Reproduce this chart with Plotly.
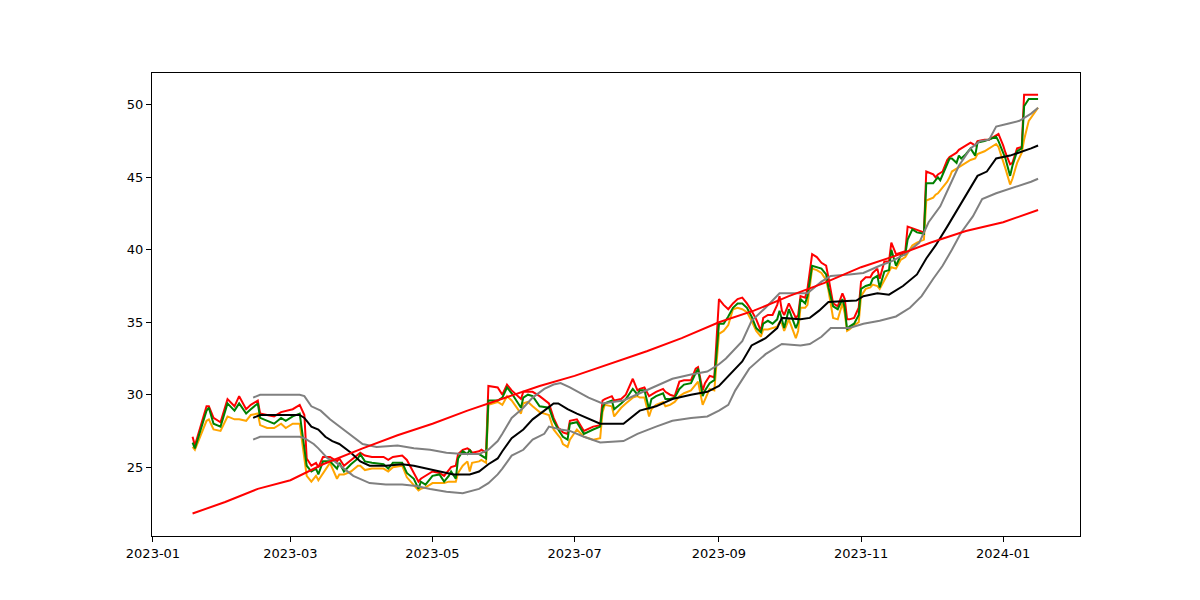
import plotly.graph_objects as go

# daily price samples (close / high / low)
dates = [
    "2023-01-18", "2023-01-19", "2023-01-24", "2023-01-25", "2023-01-27", "2023-01-30",
    "2023-02-02", "2023-02-05", "2023-02-07", "2023-02-10", "2023-02-12", "2023-02-15",
    "2023-02-16", "2023-02-19", "2023-02-22", "2023-02-25", "2023-02-27", "2023-03-02",
    "2023-03-05", "2023-03-07", "2023-03-08", "2023-03-10", "2023-03-12", "2023-03-13",
    "2023-03-15", "2023-03-18", "2023-03-21", "2023-03-22", "2023-03-24", "2023-03-27",
    "2023-03-30", "2023-03-31", "2023-04-02", "2023-04-05", "2023-04-10", "2023-04-12",
    "2023-04-14", "2023-04-18", "2023-04-20", "2023-04-23", "2023-04-25", "2023-04-26",
    "2023-04-28", "2023-04-30", "2023-05-01", "2023-05-04", "2023-05-06", "2023-05-08",
    "2023-05-09", "2023-05-11", "2023-05-12", "2023-05-14", "2023-05-16", "2023-05-17",
    "2023-05-18", "2023-05-21", "2023-05-22", "2023-05-24", "2023-05-25", "2023-05-29",
    "2023-05-31", "2023-06-02", "2023-06-04", "2023-06-08", "2023-06-09", "2023-06-11",
    "2023-06-13", "2023-06-16", "2023-06-20", "2023-06-22", "2023-06-24", "2023-06-25",
    "2023-06-26", "2023-06-28", "2023-06-29", "2023-07-02", "2023-07-05", "2023-07-09",
    "2023-07-12", "2023-07-13", "2023-07-14", "2023-07-17", "2023-07-18", "2023-07-21",
    "2023-07-23", "2023-07-26", "2023-07-28", "2023-07-29", "2023-07-31", "2023-08-02",
    "2023-08-03", "2023-08-05", "2023-08-08", "2023-08-09", "2023-08-11", "2023-08-13",
    "2023-08-15", "2023-08-17", "2023-08-20", "2023-08-22", "2023-08-23", "2023-08-25",
    "2023-08-26", "2023-08-28", "2023-08-30", "2023-09-01", "2023-09-03", "2023-09-05",
    "2023-09-07", "2023-09-09", "2023-09-11", "2023-09-13", "2023-09-15", "2023-09-17",
    "2023-09-19", "2023-09-20", "2023-09-22", "2023-09-24", "2023-09-26", "2023-09-27",
    "2023-09-28", "2023-09-29", "2023-10-01", "2023-10-04", "2023-10-05", "2023-10-06",
    "2023-10-08", "2023-10-09", "2023-10-11", "2023-10-13", "2023-10-15", "2023-10-17",
    "2023-10-18", "2023-10-20", "2023-10-22", "2023-10-24", "2023-10-25", "2023-10-26",
    "2023-10-27", "2023-10-29", "2023-10-31", "2023-11-01", "2023-11-03", "2023-11-05",
    "2023-11-06", "2023-11-08", "2023-11-09", "2023-11-11", "2023-11-13", "2023-11-14",
    "2023-11-16", "2023-11-18", "2023-11-20", "2023-11-21", "2023-11-23", "2023-11-25",
    "2023-11-28", "2023-11-29", "2023-12-02", "2023-12-03", "2023-12-04", "2023-12-05",
    "2023-12-06", "2023-12-08", "2023-12-09", "2023-12-10", "2023-12-12", "2023-12-13",
    "2023-12-14", "2023-12-16", "2023-12-18", "2023-12-20", "2023-12-21", "2023-12-24",
    "2023-12-26", "2023-12-29", "2023-12-30", "2024-01-01", "2024-01-02", "2024-01-04",
    "2024-01-05", "2024-01-07", "2024-01-09", "2024-01-10", "2024-01-12", "2024-01-16",
]

close = [
    26.7, 26.3, 28.9, 29.1, 28.0, 27.8, 29.4, 28.9, 29.4, 28.7, 29.0, 29.4,
    28.4, 28.2, 28.0, 28.4, 28.2, 28.5, 28.7, 26.3, 25.1, 24.7, 24.9, 24.5,
    25.4, 25.4, 24.9, 25.3, 24.7, 25.2, 25.6, 25.9, 25.4, 25.3, 25.2, 24.9,
    25.3, 25.3, 24.6, 24.2, 23.5, 24.0, 23.8, 24.2, 24.4, 24.5, 24.0, 24.4,
    24.7, 24.2, 25.6, 26.1, 25.9, 26.2, 25.9, 25.9, 25.8, 25.6, 29.6, 29.6,
    29.8, 30.5, 30.1, 29.1, 29.8, 30.0, 29.9, 29.2, 29.1, 28.2, 27.6, 27.3,
    27.1, 26.9, 28.0, 28.1, 27.3, 27.6, 27.8, 29.1, 29.4, 29.6, 29.0, 29.4,
    29.7, 30.4, 30.0, 30.3, 30.3, 29.0, 29.7, 29.9, 30.1, 29.7, 29.7, 29.8,
    30.4, 30.7, 30.8, 31.5, 31.8, 29.9, 30.3, 30.8, 31.0, 34.9, 34.9, 35.4,
    36.0, 36.3, 36.3, 36.0, 35.4, 34.6, 34.3, 34.9, 35.1, 34.9, 35.2, 35.8,
    35.2, 34.6, 35.9, 34.6, 35.0, 36.6, 36.3, 36.8, 38.9, 38.8, 38.7, 38.3,
    37.4, 36.1, 35.9, 36.6, 36.0, 34.5, 34.7, 34.9, 35.5, 37.3, 37.5, 37.6,
    38.0, 38.2, 37.4, 38.5, 38.6, 40.0, 38.9, 39.6, 39.7, 40.7, 41.4, 41.2,
    41.1, 44.6, 44.6, 44.8, 45.0, 44.8, 45.2, 46.0, 46.3, 46.3, 46.0, 46.5,
    46.3, 46.6, 47.0, 46.5, 47.4, 47.5, 47.6, 47.8, 47.5, 46.7, 46.3, 45.1,
    45.8, 46.8, 47.0, 49.9, 50.4, 50.4,
]

high = [
    27.1, 26.5, 29.2, 29.2, 28.4, 28.1, 29.7, 29.2, 29.9, 29.0, 29.3, 29.6,
    28.7, 28.6, 28.5, 28.8, 28.9, 29.0, 29.3, 28.6, 25.6, 25.1, 25.3, 25.0,
    25.7, 25.7, 25.4, 25.6, 25.1, 25.5, 25.9, 26.0, 25.8, 25.7, 25.7, 25.5,
    25.7, 25.8, 25.5, 24.6, 24.0, 24.2, 24.4, 24.6, 24.7, 24.6, 24.4, 24.8,
    25.0, 25.1, 25.9, 26.2, 26.3, 26.2, 26.0, 26.1, 26.2, 26.0, 30.6, 30.5,
    30.0, 30.7, 30.3, 29.7, 30.2, 30.2, 30.2, 29.9, 29.4, 28.4, 27.7, 27.6,
    27.4, 27.3, 28.2, 28.3, 27.5, 27.8, 27.9, 29.6, 29.7, 29.9, 29.6, 29.7,
    30.0, 31.1, 30.3, 30.4, 30.5, 29.9, 30.0, 30.2, 30.4, 30.2, 30.0, 29.9,
    30.9, 31.0, 31.0, 31.8, 31.9, 30.3, 30.8, 31.3, 31.2, 36.6, 36.2, 35.9,
    36.3, 36.6, 36.7, 36.3, 35.8, 35.2, 34.4, 35.3, 35.5, 35.5, 36.2, 36.8,
    35.8, 35.5, 36.3, 35.3, 35.5, 36.8, 36.7, 37.3, 39.7, 39.5, 39.1, 38.9,
    38.1, 36.3, 36.1, 37.0, 36.6, 35.2, 35.2, 35.3, 36.0, 37.8, 38.1, 38.1,
    38.4, 38.7, 38.0, 39.2, 39.2, 40.5, 39.7, 39.8, 39.9, 41.6, 41.5, 41.4,
    41.2, 45.4, 45.2, 45.0, 45.2, 45.3, 45.4, 46.2, 46.4, 46.5, 46.7, 46.9,
    47.0, 47.2, 47.4, 47.2, 47.5, 47.6, 47.6, 47.9, 48.0, 47.2, 46.7, 45.9,
    46.0, 47.0, 47.1, 50.7, 50.7, 50.7,
]

low = [
    26.4, 26.2, 28.2, 28.3, 27.6, 27.5, 28.5, 28.3, 28.3, 28.2, 28.6, 28.7,
    27.9, 27.7, 27.7, 28.0, 27.7, 28.0, 28.0, 25.6, 24.4, 24.0, 24.4, 24.1,
    24.6, 25.3, 24.2, 24.5, 24.5, 24.7, 25.1, 25.1, 24.8, 24.9, 24.9, 24.7,
    25.0, 25.1, 24.3, 23.8, 23.4, 23.5, 23.6, 23.8, 23.9, 23.9, 23.9, 24.0,
    24.0, 24.0, 24.6, 25.1, 25.4, 24.7, 25.3, 25.4, 25.5, 25.3, 29.3, 29.5,
    29.3, 29.9, 29.6, 28.7, 29.4, 29.5, 29.2, 28.8, 28.6, 27.6, 27.2, 27.0,
    26.6, 26.4, 26.9, 27.6, 27.1, 26.9, 27.0, 28.8, 29.3, 29.2, 28.5, 29.1,
    29.4, 29.8, 29.9, 29.8, 29.8, 28.5, 29.0, 29.3, 29.5, 29.2, 29.3, 29.5,
    29.9, 30.1, 30.3, 30.7, 30.9, 29.3, 29.7, 30.4, 30.3, 34.2, 34.4, 34.8,
    35.9, 36.0, 35.9, 35.7, 35.1, 34.4, 34.0, 34.5, 34.5, 34.6, 34.7, 35.0,
    34.9, 34.4, 35.2, 33.9, 34.4, 36.0, 36.0, 36.2, 38.7, 38.6, 38.4, 37.9,
    37.2, 35.3, 35.2, 36.3, 35.6, 34.4, 34.5, 34.8, 35.0, 36.8, 37.3, 37.4,
    37.6, 37.5, 37.3, 37.9, 38.5, 38.8, 38.7, 39.3, 39.5, 39.8, 40.3, 40.5,
    40.7, 43.4, 43.6, 43.8, 43.9, 44.1, 44.3, 44.7, 45.0, 45.4, 45.6, 45.7,
    45.8, 46.0, 46.2, 46.3, 46.6, 46.8, 47.0, 47.3, 47.1, 46.2, 45.6, 44.5,
    44.9, 46.0, 46.7, 47.6, 48.9, 49.8,
]

# 20-day moving average and bands
ma_dates = [
    "2023-02-13", "2023-02-16", "2023-03-05", "2023-03-07", "2023-03-10", "2023-03-13",
    "2023-03-16", "2023-03-19", "2023-03-22", "2023-03-27", "2023-03-31", "2023-04-04",
    "2023-04-11", "2023-04-18", "2023-04-23", "2023-04-29", "2023-05-04", "2023-05-10",
    "2023-05-17", "2023-05-21", "2023-05-25", "2023-05-29", "2023-05-31", "2023-06-04",
    "2023-06-09", "2023-06-13", "2023-06-18", "2023-06-22", "2023-06-24", "2023-06-28",
    "2023-07-02", "2023-07-06", "2023-07-12", "2023-07-22", "2023-07-29", "2023-08-05",
    "2023-08-12", "2023-08-20", "2023-08-27", "2023-09-01", "2023-09-04", "2023-09-11",
    "2023-09-15", "2023-09-21", "2023-09-26", "2023-09-28", "2023-10-06", "2023-10-10",
    "2023-10-14", "2023-10-18", "2023-10-30", "2023-11-02", "2023-11-08", "2023-11-13",
    "2023-11-19", "2023-11-25", "2023-11-29", "2023-12-03", "2023-12-08", "2023-12-12",
    "2023-12-16", "2023-12-21", "2023-12-25", "2023-12-29", "2024-01-04", "2024-01-08",
    "2024-01-13", "2024-01-16",
]
ma = [
    28.4, 28.6, 28.6, 28.4, 27.8, 27.6, 27.1, 26.8, 26.6, 26.0, 25.4, 25.1,
    25.1, 25.2, 25.1, 24.9, 24.7, 24.5, 24.5, 24.7, 25.2, 25.6, 26.1, 27.0,
    27.6, 28.3, 28.9, 29.4, 29.4, 29.0, 28.7, 28.4, 28.0, 28.0, 28.9, 29.2,
    29.7, 30.0, 30.2, 30.6, 31.1, 32.3, 33.4, 33.9, 34.6, 35.3, 35.2, 35.3,
    35.8, 36.4, 36.5, 36.8, 37.0, 36.9, 37.5, 38.3, 39.4, 40.3, 41.6, 42.7,
    43.7, 45.1, 45.4, 46.3, 46.5, 46.7, 47.0, 47.2,
]

upper_dates = [
    "2023-02-13", "2023-02-16", "2023-03-05", "2023-03-07", "2023-03-10", "2023-03-14",
    "2023-03-18", "2023-03-22", "2023-03-28", "2023-04-01", "2023-04-07", "2023-04-16",
    "2023-04-23", "2023-04-30", "2023-05-07", "2023-05-14", "2023-05-21", "2023-05-25",
    "2023-05-29", "2023-05-31", "2023-06-04", "2023-06-09", "2023-06-13", "2023-06-18",
    "2023-06-22", "2023-06-25", "2023-06-29", "2023-07-05", "2023-07-07", "2023-07-13",
    "2023-07-22", "2023-07-29", "2023-08-05", "2023-08-12", "2023-08-20", "2023-08-27",
    "2023-09-01", "2023-09-04", "2023-09-11", "2023-09-15", "2023-09-21", "2023-09-27",
    "2023-10-01", "2023-10-09", "2023-10-15", "2023-10-19", "2023-10-27", "2023-11-02",
    "2023-11-09", "2023-11-14", "2023-11-20", "2023-11-26", "2023-11-30", "2023-12-05",
    "2023-12-09", "2023-12-13", "2023-12-18", "2023-12-22", "2023-12-26", "2023-12-29",
    "2024-01-03", "2024-01-08", "2024-01-13", "2024-01-16",
]
upper = [
    29.8, 30.0, 30.0, 29.9, 29.2, 28.9, 28.3, 27.8, 27.1, 26.6, 26.4, 26.5,
    26.3, 26.2, 26.0, 25.9, 25.9, 26.2, 26.8, 27.3, 28.4, 29.1, 29.8, 30.4,
    30.7, 30.8, 30.5, 30.0, 29.8, 29.4, 29.6, 30.1, 30.6, 31.1, 31.4, 31.6,
    32.1, 32.5, 33.7, 35.1, 36.0, 37.0, 37.0, 37.0, 37.8, 38.2, 38.3, 38.4,
    38.9, 39.2, 39.7, 40.5, 41.9, 43.0, 44.4, 45.8, 47.0, 47.5, 47.6, 48.5,
    48.7, 48.9, 49.4, 49.8,
]

lower_dates = [
    "2023-02-13", "2023-02-16", "2023-03-05", "2023-03-07", "2023-03-11", "2023-03-13",
    "2023-03-17", "2023-03-20", "2023-03-24", "2023-03-28", "2023-04-04", "2023-04-11",
    "2023-04-18", "2023-04-24", "2023-04-30", "2023-05-07", "2023-05-14", "2023-05-21",
    "2023-05-25", "2023-05-29", "2023-05-31", "2023-06-04", "2023-06-09", "2023-06-13",
    "2023-06-18", "2023-06-20", "2023-06-25", "2023-06-29", "2023-07-05", "2023-07-07",
    "2023-07-12", "2023-07-22", "2023-07-28", "2023-08-05", "2023-08-12", "2023-08-20",
    "2023-08-27", "2023-09-01", "2023-09-05", "2023-09-08", "2023-09-14", "2023-09-21",
    "2023-09-28", "2023-10-06", "2023-10-10", "2023-10-15", "2023-10-19", "2023-10-27",
    "2023-11-02", "2023-11-09", "2023-11-16", "2023-11-22", "2023-11-27", "2023-12-02",
    "2023-12-06", "2023-12-10", "2023-12-14", "2023-12-19", "2023-12-23", "2023-12-29",
    "2024-01-04", "2024-01-08", "2024-01-13", "2024-01-16",
]
lower = [
    26.9, 27.1, 27.1, 27.0, 26.6, 26.3, 25.6, 25.4, 24.9, 24.4, 23.9, 23.8,
    23.8, 23.7, 23.5, 23.3, 23.2, 23.5, 23.9, 24.5, 24.9, 25.8, 26.2, 26.9,
    27.3, 27.8, 27.6, 27.5, 27.1, 27.0, 26.7, 26.8, 27.3, 27.8, 28.2, 28.4,
    28.5, 28.9, 29.3, 30.3, 31.8, 32.8, 33.5, 33.4, 33.5, 34.0, 34.6, 34.6,
    34.9, 35.1, 35.4, 36.0, 36.8, 38.0, 38.9, 40.0, 41.2, 42.3, 43.5, 43.9,
    44.2, 44.4, 44.7, 44.9,
]

# long-term trend line
trend_dates = [
    "2023-01-18", "2023-02-01", "2023-02-15", "2023-03-01", "2023-03-15", "2023-04-01",
    "2023-04-16", "2023-05-01", "2023-05-16", "2023-06-01", "2023-06-16", "2023-07-01",
    "2023-07-16", "2023-08-01", "2023-08-16", "2023-09-01", "2023-09-16", "2023-10-01",
    "2023-10-16", "2023-11-01", "2023-11-16", "2023-12-01", "2023-12-16", "2024-01-01",
    "2024-01-16",
]
trend = [
    21.8, 22.6, 23.5, 24.1, 25.2, 26.3, 27.2, 28.0, 28.9, 29.8, 30.6, 31.3,
    32.1, 33.0, 33.9, 35.0, 35.8, 36.8, 37.7, 38.8, 39.6, 40.5, 41.3, 41.9,
    42.75,
]

fig = go.Figure()
fig.add_trace(go.Scatter(x=dates, y=high, mode="lines", line=dict(color="red", width=2)))
fig.add_trace(go.Scatter(x=dates, y=low, mode="lines", line=dict(color="orange", width=2)))
fig.add_trace(go.Scatter(x=dates, y=close, mode="lines", line=dict(color="green", width=2)))
fig.add_trace(go.Scatter(x=ma_dates, y=ma, mode="lines", line=dict(color="black", width=2)))
fig.add_trace(go.Scatter(x=upper_dates, y=upper, mode="lines", line=dict(color="grey", width=2)))
fig.add_trace(go.Scatter(x=lower_dates, y=lower, mode="lines", line=dict(color="grey", width=2)))
fig.add_trace(go.Scatter(x=trend_dates, y=trend, mode="lines", line=dict(color="red", width=2)))

axis_style = dict(
    showgrid=False, zeroline=False, showline=True, linecolor="black", linewidth=1,
    mirror=True, ticks="outside", ticklen=5, tickcolor="black",
    tickfont=dict(family="DejaVu Sans", size=13, color="black"),
)
fig.update_layout(
    width=1200, height=600,
    margin=dict(l=144, r=128, t=65, b=72),
    plot_bgcolor="white", paper_bgcolor="white",
    showlegend=False,
    xaxis=dict(type="date", range=["2022-12-31 14:00", "2024-02-03"],
               tick0="2023-01-01", dtick="M2", tickformat="%Y-%m", **axis_style),
    yaxis=dict(range=[20.25, 52.2], tick0=25, dtick=5, **axis_style),
)

fig.write_html("out.html")
